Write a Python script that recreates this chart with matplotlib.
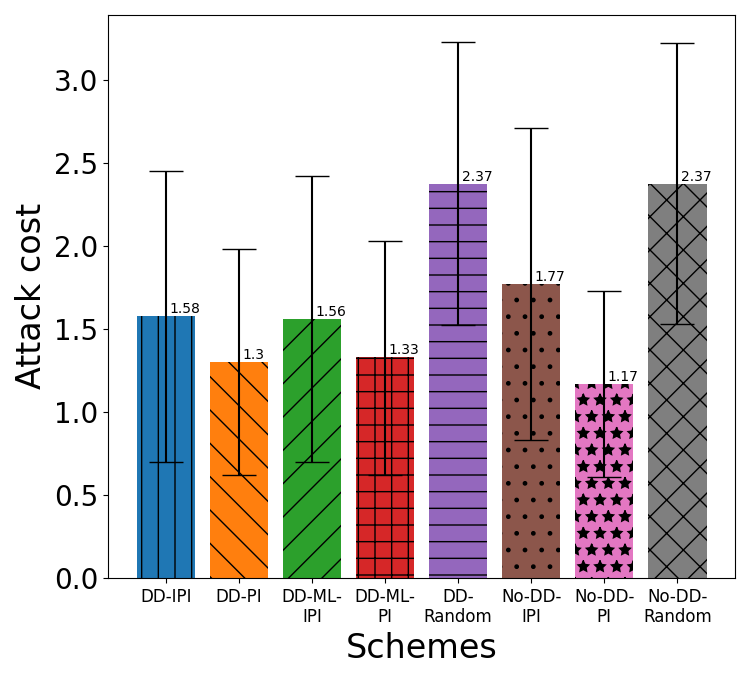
import matplotlib
matplotlib.use("Agg")
import matplotlib.pyplot as plt
import numpy as np

schemes = ["DD-IPI", "DD-PI", "DD-ML-\nIPI", "DD-ML-\nPI", "DD-\nRandom", "No-DD-\nIPI", "No-DD-\nPI", "No-DD-\nRandom"]
cost = [1.58, 1.3, 1.56, 1.33, 2.37, 1.77, 1.17, 2.37]
low = [0.70, 0.62, 0.70, 0.62, 1.52, 0.83, 0.61, 1.53]
high = [2.45, 1.98, 2.42, 2.03, 3.23, 2.71, 1.73, 3.22]
hatches = ['|', '\\', '/', '+', '-', '.', '*', 'x']
colors = plt.rcParams['axes.prop_cycle'].by_key()['color'][:8]

fig = plt.figure(figsize=(7.5, 6.75), dpi=100)
ax = fig.add_axes([0.144, 0.144, 0.836, 0.834])
x = np.arange(len(cost))
err = [np.array(cost) - np.array(low), np.array(high) - np.array(cost)]
for i in range(len(cost)):
    ax.bar(x[i], cost[i], width=0.8, color=colors[i], hatch=hatches[i])
    ax.text(x[i] + 0.05, cost[i], str(cost[i]), fontsize=10, va='bottom')
ax.errorbar(x, cost, yerr=err, fmt='none', ecolor='black', capsize=12)
ax.set_xticks(x)
ax.set_xticklabels(schemes, fontsize=12)
ax.tick_params(axis='y', labelsize=20)
ax.set_ylabel("Attack cost", fontsize=24)
ax.set_xlabel("Schemes", fontsize=24)
fig.savefig("out.png")
